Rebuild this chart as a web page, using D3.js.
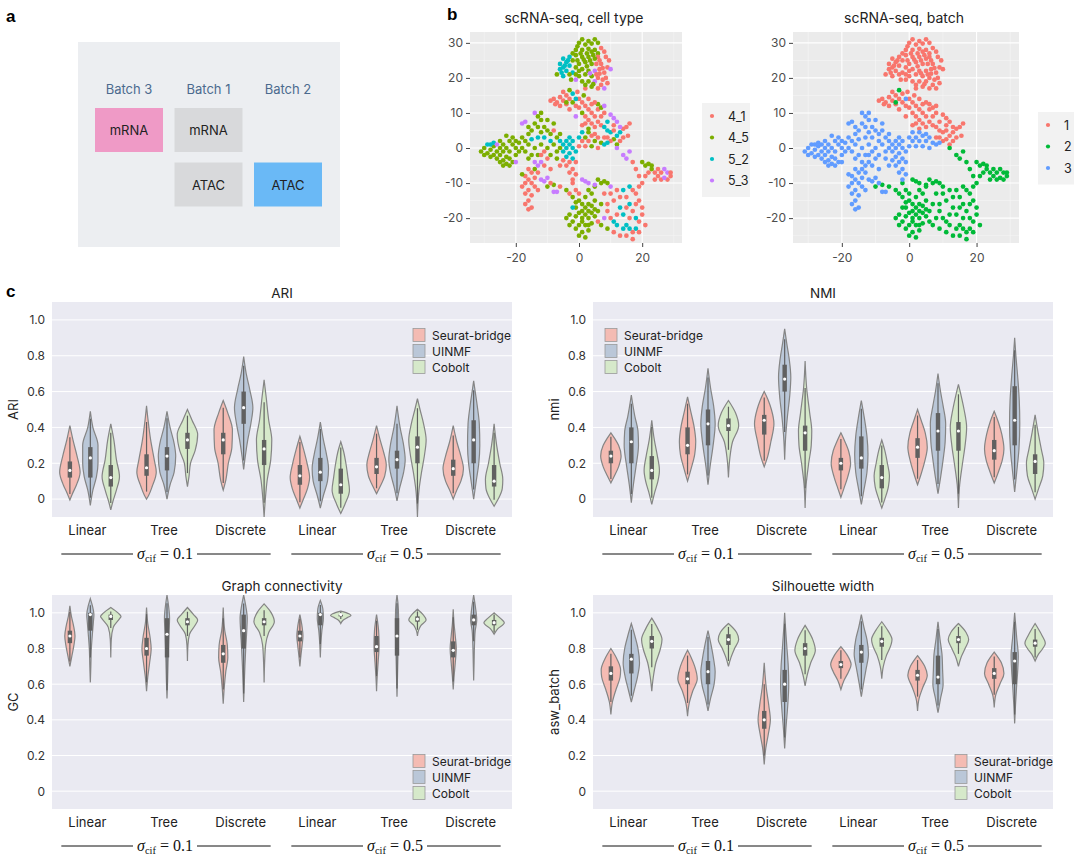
<!DOCTYPE html>
<html>
<head>
<meta charset="utf-8">
<script src="https://cdn.jsdelivr.net/npm/d3@7"></script>
<style>
  body { margin: 0; background: #fff; }
  svg { display: block; }
</style>
</head>
<body>
<script>
// ---------- data ----------
const FONT = 'Inter, "Noto Sans", sans-serif';
const SERIF = '"Liberation Serif", "DejaVu Serif", serif';

// panel a
const batchNames = ['Batch 3', 'Batch 1', 'Batch 2'];
const modalities = ['mRNA', 'ATAC'];
const batchModality = [['Batch 3', 'mRNA'], ['Batch 1', 'mRNA'], ['Batch 1', 'ATAC'], ['Batch 2', 'ATAC']];

// panel b (t-SNE), each token "x,y,celltype" ; r=4_1 g=4_5 c=5_2 p=5_3
const cellTypes = ['4_1', '4_5', '5_2', '5_3'];
const batchIds = ['1', '2', '3'];
const typeCode = { r: '4_1', g: '4_5', c: '5_2', p: '5_3' };
const tsneXTicks = [-20, 0, 20];
const tsneYTicks = [-20, -10, 0, 10, 20, 30];

const batch1Cells = `1,31,g 3,30.5,g 5,31,g 0,30,g 2,29.5,g 4,29.8,g 6,30,g -0.5,29,g -1,28,g 1,28,g 3,28.3,g 5,28,g
 7,28.5,r 8,27.5,r 6,27,g -2,27,g -3,26,c -1,26.5,g 1,26,g 3,26,g 4.5,26.5,g 6,26,r 8.5,26,r -5,25.5,c -4,24.5,c
 -6,24,c -5,23,c -3,23.5,c -4,22,c -6,22.5,c -2,25,g 0,24,g 2,24.5,g 4,24,g 5.5,24,r 7,24,r 9,23,r 1,22.5,g 3,22,g
 -1,23,g -2,21.5,c -3,21,g -7,21,g -5,20.5,c 5,22,p 6.5,22.5,r 8,21.5,r 10,22.5,p 2,21,g 4,20.5,g 0,20.5,g 6,20,r
 7.5,19.5,r 5,19,p 3,19,g 1,19,g -1,19.5,p 7,18,r 6,17,r 8,17,p 4,17.5,g 2,17,r 0.5,27,g 2.5,27,g 4,27.5,g -0.5,25,g
 1.5,25.2,g 3.5,25,g 5,25.5,g 6.5,25,r 7.5,22.8,r 8.5,20,r 2.5,23.3,g 0,22,g -1,21,g -2.5,19.5,g 3.5,21.3,p 5.5,21,r
 6.5,21.2,r 4.5,18.2,g 2,18,g 9,18.5,r 9.5,25,r -3.5,25,c -5.5,21.5,c -4.5,23.5,c
 -8,14,r -7,13,r -6,14.5,r -5,13.5,r -4,12.5,r -6,12,r -3,14,r -2,13,g -1,12,r 0,11.5,r 1,13,r -4,15,r -2,15.5,c
 0,14,r -7.5,12.5,r -3,11,r 2,12,r 3,11,r 1,10,g 2,9,r 3,8,r 4,10,r 5,9,r 6,11,r 4,7,r 5,6,r 6,7.5,r 7,9,r 8,10,r
 7,6.5,r 3,5.5,g 1,6.5,r 6,12.5,g 7,11.5,g 8,12,p -1,9,p 5,13,r -0.5,16,r 1.5,15,g 3,14,r -5,16,r -9,13.5,r 4,12.5,r 2,7,r
 8,6,c 9,5,c 10,4.5,c 11,5,r 12,3.5,c 13,4.5,c 14,5.5,r 15,6,r 14,3,r 13,2,r 12,1,g 11,2.5,g 10,2,r 9,3,r 15.5,3.5,r
 10,9.5,p 11,8.5,p 12,7.5,p 16,7,r 9,7.5,c 8,3,r 11,6.5,r 13,6,p`;

const batch2Cells = `-3,16.5,g -4,13,g -10,-11,g -8,-10.5,g -6,-11,r -4,-12,g -3,-13,r -2,-14,g 0,-15,g 2,-14,g 4,-13,g
 1,-16,g 3,-16,g 5,-15,g -1,-17,g 1,-18,g 3,-18,g 5,-17.5,g 7,-16,g -3,-19,g -1,-19.5,g 1,-20,g 3,-20,g 5,-19.5,g
 -2,-21,g 0,-22,g 2,-22,g 4,-21.5,g 6,-21,r -1,-23,g 1,-24,g 3,-23.5,g 0,-25,g 2,-25.5,g 4,-18.5,g 2,-17,g 6,-18,g
 -4,-20,g -3,-22,g -2,-17,c 3,-12,g 5,-11,g 0,-18.5,g 2,-19,g 4,-16.5,g 1,-21,g 3,-22,g -1,-15.5,g
 1,-9,p 2,-9.5,p 3,-10,p 5,-10.5,p 6,-9,g 7,-10,g 8,-9.5,g 9,-10,g 10,-11,p -1,-12,r 0,-13,r -2,-10,r
 10,-13,r 12,-12,r 14,-12,c 16,-11,c 17,-12,r 18,-13,r 19,-15,r 20,-17,r 20,-19,r 19,-21,r 18,-23,c 17,-24,r
 16,-23,c 15,-22,c 14,-23,c 12,-22,c 11,-21,c 10,-20,r 9,-18,r 9,-16,r 11,-15,r 13,-14,r 15,-14,r 16,-16,c 17,-18,r
 16,-20,r 14,-19,c 13,-17,c 12,-19,r 18,-20,c 19,-24,r 21,-22,r 8,-20,p 7,-22,g 9,-23,g 11,-24,r 13,-25,r 15,-25,r
 17,-26,r 8,-13,r 15,-17,r 18,-16,r
 14,-2,p 16,-1,p 15,-3,p 17,-4,r 18,-6,r 19,-8,r 20,-4,g 21,-5,g 22,-4.5,g 23,-5,g 22,-7,r 24,-7,r 25,-8,r 26,-7,r
 27,-6,p 28,-7,p 29,-8,r 28,-9,r 26,-9,r 24,-9,r 23,-6,g 21,-8,r 20,-10,r 19,-11,r 25,-6,r 27,-8.5,p 29,-7,r 12,0,p`;

const batch3Cells = `-31,-1,g -30,0,g -29,-1.5,g -28,-0.5,g -28,-2.5,g -27,0.5,g -27,-2,g -26,-3,g -26,-1,g -25,0,g -25,-2,g
 -24,-3.5,g -24,-1,g -23,-2.5,g -23,-4.5,g -22,-3,g -22,-5,g -21,-4,g -29,1,c -27,1.5,c -25,2,g -24,1,g -23,0,g
 -22,2,g -21,1,g -21,3,g -20,2,g -20,0,g -19,1.5,g -19,-1,g -20,-2,g -18,3,g -18,0,g -17,2,g -17,-1,g -16,1,g
 -22,-1,g -24,-5,g -20,-4,p -26,1,p -23,3.5,g -25,-4,g -30,-2,g -28,1,c
 -18,7,p -17,7.5,p -14,10,p -13,9,g -12,8,g -14,7,g -16,6,g -15,5,g -13,6,g -11,6,g -12,4.5,g -10,5,g -9,4,g
 -8,5,r -9,2,c -11,3,c -13,3,c -15,2.5,c -14,0,g -12,1,g -10,0,g -8,1,g -15,-2,g -13,-2,g -11,-1,r -9,-2,g -7,-1,g
 -7,3,g -6,4,g -12,-4,p -14,-4,p -16,-3,g -12,10,g -10,8,g -8,7,g -16,4,g
 -6,2,c -5,1,c -4,2,c -3,1,c -2,2,c -4,0,c -2,0,c -5,-1,c -3,-1.5,c -1,-1,c -4,-2.5,c -2,-3,c -3,-4,r -5,-3.5,r
 -1,-4,r -4,-5,r -2,-6,r -3,-7,r -1,-7.5,r -2,-9,r -6,-5,r -7,-3,g -6,0,g -3,3,c
 0,3,c 1,2,r 2,3,g 3,2,r 4,3.5,r 5,2,g 6,3,r 7,1.5,g 8,1,c 9,1.5,c 2,0.5,r 4,0.5,g 6,0,r 0,0.5,r 1,4.5,c 3,4.5,g 5,4,r
 -16,-6,r -15,-7,r -14,-6,g -17,-8,r -16,-9,r -14,-8.5,r -13,-7,r -18,-7.5,g -17,-10,r -15,-10,r -16,-12,r -14,-11,r
 -17,-13,r -15,-13.5,r -16,-15,r -17,-16,r -15,-17,r -16,-17.5,r -18,-11,r -13,-12,r -12,-9,p -11,-9.5,p -10,-8.5,p
 -9,-10,r -8,-12.5,p -7,-12.5,p -13,-5,p -11,-5,r -9,-6,r -10,-3,r -12,-2,r -1,14,c`;

// panel c
const methods = ['Seurat-bridge', 'UINMF', 'Cobolt'];
const categories = ['Linear', 'Tree', 'Discrete', 'Linear', 'Tree', 'Discrete'];
const sigmaValues = ['0.1', '0.5'];
const violinYTicks = [0, 0.2, 0.4, 0.6, 0.8, 1.0];

// violin outlines: [value, relative half-width] knots; order = category x method
const ariKnots = [
  [[-0.005,0],[0.03,0.25],[0.08,0.65],[0.15,1],[0.24,0.7],[0.33,0.3],[0.41,0]],
  [[-0.035,0],[0.05,0.25],[0.125,0.6],[0.2,0.75],[0.3,0.75],[0.4,0.25],[0.49,0]],
  [[-0.06,0],[-0.015,0.2],[0.05,0.55],[0.125,0.85],[0.22,0.55],[0.33,0.3],[0.42,0]],
  [[0,0],[0.02,0.2],[0.07,0.55],[0.15,0.95],[0.22,0.75],[0.33,0.4],[0.44,0.15],[0.52,0]],
  [[0,0],[0.08,0.3],[0.15,0.7],[0.24,0.85],[0.31,0.7],[0.4,0.3],[0.49,0]],
  [[0.07,0],[0.125,0.15],[0.2,0.3],[0.27,0.75],[0.36,1],[0.44,0.45],[0.5,0]],
  [[0.05,0],[0.105,0.25],[0.2,0.5],[0.29,0.85],[0.385,0.9],[0.48,0.45],[0.55,0]],
  [[0.165,0],[0.235,0.15],[0.33,0.4],[0.42,0.7],[0.51,0.9],[0.61,0.6],[0.7,0.25],[0.795,0]],
  [[-0.1,0],[0,0.12],[0.105,0.3],[0.22,0.65],[0.33,0.75],[0.44,0.45],[0.57,0.2],[0.665,0]],
  [[-0.05,0],[0,0.35],[0.06,0.75],[0.12,0.95],[0.2,0.7],[0.28,0.35],[0.35,0]],
  [[-0.05,0],[0.02,0.3],[0.1,0.7],[0.17,0.8],[0.25,0.6],[0.33,0.3],[0.43,0]],
  [[-0.08,0],[-0.03,0.4],[0.05,0.85],[0.12,0.7],[0.2,0.5],[0.26,0.3],[0.32,0]],
  [[0.03,0],[0.07,0.35],[0.13,0.8],[0.19,0.95],[0.26,0.7],[0.33,0.35],[0.41,0]],
  [[-0.01,0],[0.06,0.25],[0.15,0.65],[0.22,0.8],[0.3,0.65],[0.4,0.3],[0.52,0]],
  [[-0.1,0],[0.05,0.15],[0.15,0.4],[0.25,0.7],[0.33,0.85],[0.42,0.6],[0.5,0.25],[0.56,0]],
  [[0,0],[0.05,0.35],[0.1,0.75],[0.17,1],[0.24,0.75],[0.32,0.35],[0.41,0]],
  [[0,0],[0.1,0.25],[0.2,0.5],[0.3,0.6],[0.42,0.55],[0.52,0.35],[0.6,0.15],[0.66,0]],
  [[-0.04,0],[0,0.4],[0.06,0.8],[0.11,0.85],[0.2,0.55],[0.3,0.25],[0.42,0]]
];
const ariBox = [[0.12,0.16,0.21],[0.12,0.23,0.29],[0.07,0.12,0.19],[0.13,0.175,0.25],[0.16,0.24,0.29],[0.28,0.33,0.37],
  [0.25,0.33,0.37],[0.42,0.51,0.6],[0.19,0.28,0.33],[0.08,0.13,0.19],[0.1,0.15,0.23],[0.03,0.08,0.17],
  [0.14,0.18,0.23],[0.17,0.22,0.27],[0.2,0.29,0.35],[0.13,0.17,0.22],[0.2,0.33,0.44],[0.07,0.1,0.19]];

const nmiKnots = [
  [[0.09,0],[0.13,0.35],[0.18,0.75],[0.24,1],[0.3,0.75],[0.34,0.35],[0.37,0]],
  [[-0.02,0],[0.08,0.2],[0.18,0.45],[0.3,0.7],[0.38,0.65],[0.46,0.35],[0.58,0]],
  [[-0.03,0],[0.04,0.3],[0.1,0.6],[0.16,0.75],[0.24,0.55],[0.33,0.25],[0.44,0]],
  [[0.1,0],[0.17,0.35],[0.25,0.7],[0.32,0.8],[0.4,0.65],[0.48,0.35],[0.57,0]],
  [[0.08,0],[0.18,0.2],[0.3,0.5],[0.42,0.7],[0.52,0.55],[0.62,0.25],[0.73,0]],
  [[0.12,0],[0.22,0.12],[0.32,0.4],[0.41,1],[0.48,0.7],[0.55,0]],
  [[0.18,0],[0.24,0.35],[0.32,0.65],[0.42,0.95],[0.5,0.7],[0.55,0.4],[0.6,0]],
  [[0.22,0],[0.35,0.1],[0.45,0.25],[0.58,0.5],[0.68,0.6],[0.78,0.45],[0.87,0.2],[0.95,0]],
  [[-0.05,0],[0.08,0.1],[0.2,0.35],[0.3,0.6],[0.38,0.65],[0.48,0.45],[0.62,0.15],[0.77,0]],
  [[0.01,0],[0.06,0.3],[0.12,0.65],[0.2,0.95],[0.27,0.75],[0.32,0.4],[0.37,0]],
  [[-0.03,0],[0.05,0.25],[0.15,0.55],[0.25,0.65],[0.35,0.55],[0.45,0.3],[0.55,0]],
  [[-0.05,0],[0,0.3],[0.07,0.65],[0.13,0.75],[0.2,0.55],[0.27,0.3],[0.33,0]],
  [[0.08,0],[0.14,0.35],[0.21,0.7],[0.29,0.95],[0.37,0.75],[0.44,0.35],[0.5,0]],
  [[0.03,0],[0.12,0.25],[0.22,0.5],[0.32,0.7],[0.42,0.75],[0.52,0.5],[0.6,0.25],[0.7,0]],
  [[-0.05,0],[0.08,0.12],[0.2,0.4],[0.3,0.65],[0.4,0.8],[0.5,0.55],[0.58,0.25],[0.64,0]],
  [[0.09,0],[0.15,0.4],[0.22,0.8],[0.28,0.95],[0.36,0.75],[0.43,0.4],[0.49,0]],
  [[0.04,0],[0.15,0.2],[0.28,0.42],[0.42,0.5],[0.55,0.45],[0.68,0.3],[0.8,0.12],[0.9,0]],
  [[0,0],[0.06,0.35],[0.13,0.75],[0.2,0.85],[0.28,0.6],[0.37,0.3],[0.47,0]]
];
const nmiBox = [[0.2,0.24,0.27],[0.2,0.32,0.4],[0.11,0.16,0.24],[0.25,0.3,0.4],[0.3,0.42,0.5],[0.38,0.41,0.45],
  [0.36,0.44,0.47],[0.6,0.67,0.75],[0.27,0.37,0.41],[0.16,0.2,0.23],[0.17,0.23,0.35],[0.06,0.12,0.19],
  [0.23,0.29,0.34],[0.27,0.38,0.48],[0.27,0.38,0.43],[0.22,0.27,0.33],[0.3,0.44,0.63],[0.14,0.21,0.25]];

const gcKnots = [
  [[0.7,0],[0.76,0.2],[0.82,0.4],[0.87,0.5],[0.93,0.35],[0.98,0.15],[1.04,0]],
  [[0.61,0],[0.7,0.05],[0.8,0.1],[0.88,0.2],[0.95,0.3],[0.99,0.35],[1.04,0.2],[1.08,0]],
  [[0.75,0],[0.85,0.05],[0.92,0.25],[0.97,0.9],[0.98,1],[1,0.7],[1.03,0]],
  [[0.56,0],[0.64,0.12],[0.72,0.3],[0.8,0.45],[0.86,0.35],[0.94,0.12],[1.03,0]],
  [[0.52,0],[0.62,0.06],[0.72,0.1],[0.82,0.15],[0.9,0.2],[0.97,0.25],[1.04,0.15],[1.1,0]],
  [[0.73,0],[0.82,0.05],[0.88,0.2],[0.93,0.75],[0.96,1],[0.99,0.6],[1.03,0]],
  [[0.49,0],[0.58,0.1],[0.67,0.25],[0.75,0.45],[0.82,0.4],[0.9,0.15],[1.03,0]],
  [[0.5,0],[0.6,0.06],[0.7,0.12],[0.8,0.2],[0.9,0.3],[0.97,0.35],[1.04,0.2],[1.1,0]],
  [[0.61,0],[0.72,0.05],[0.82,0.15],[0.89,0.45],[0.95,1],[1,0.7],[1.05,0]],
  [[0.7,0],[0.76,0.1],[0.82,0.22],[0.87,0.3],[0.92,0.22],[0.99,0]],
  [[0.75,0],[0.82,0.05],[0.9,0.15],[0.97,0.3],[1.02,0.25],[1.07,0]],
  [[0.94,0],[0.96,0.25],[0.975,0.7],[0.985,1],[0.995,0.8],[1.01,0]],
  [[0.56,0],[0.64,0.06],[0.72,0.15],[0.82,0.25],[0.9,0.2],[0.99,0]],
  [[0.53,0],[0.65,0.05],[0.78,0.1],[0.9,0.15],[0.98,0.15],[1.05,0.1],[1.1,0]],
  [[0.87,0],[0.9,0.1],[0.93,0.35],[0.96,0.85],[0.99,0.55],[1.02,0]],
  [[0.57,0],[0.64,0.08],[0.72,0.2],[0.8,0.3],[0.87,0.2],[0.94,0.08],[1.02,0]],
  [[0.62,0],[0.72,0.04],[0.82,0.08],[0.9,0.15],[0.96,0.3],[1.02,0.2],[1.1,0]],
  [[0.88,0],[0.91,0.35],[0.945,1],[0.97,0.6],[1,0]]
];
const gcBox = [[0.83,0.87,0.9],[0.9,0.99,1.0],[0.96,0.98,0.99],[0.76,0.8,0.86],[0.75,0.88,0.97],[0.93,0.95,0.97],
  [0.72,0.77,0.82],[0.8,0.9,0.99],[0.93,0.95,0.97],[0.84,0.87,0.9],[0.93,0.99,1.0],[0.98,0.99,0.99],
  [0.78,0.81,0.87],[0.76,0.87,0.97],[0.95,0.965,0.98],[0.75,0.79,0.84],[0.93,0.96,0.99],[0.93,0.945,0.96]];

const aswKnots = [
  [[0.43,0],[0.5,0.15],[0.57,0.5],[0.64,0.9],[0.68,0.95],[0.74,0.6],[0.8,0]],
  [[0.5,0],[0.57,0.3],[0.64,0.6],[0.72,0.8],[0.8,0.65],[0.87,0.35],[0.94,0]],
  [[0.56,0],[0.64,0.15],[0.72,0.4],[0.8,0.85],[0.85,1],[0.91,0.6],[0.97,0]],
  [[0.42,0],[0.49,0.15],[0.56,0.5],[0.63,0.95],[0.7,0.7],[0.75,0.35],[0.79,0]],
  [[0.45,0],[0.52,0.25],[0.6,0.6],[0.67,0.7],[0.74,0.55],[0.82,0.3],[0.9,0]],
  [[0.7,0],[0.75,0.25],[0.8,0.6],[0.85,1],[0.89,0.8],[0.94,0]],
  [[0.15,0],[0.24,0.15],[0.32,0.4],[0.4,0.6],[0.48,0.45],[0.58,0.2],[0.72,0]],
  [[0.24,0],[0.35,0.12],[0.48,0.3],[0.6,0.4],[0.7,0.35],[0.82,0.2],[0.92,0.08],[1.0,0]],
  [[0.59,0],[0.65,0.2],[0.72,0.55],[0.79,1],[0.85,0.75],[0.93,0]],
  [[0.57,0],[0.62,0.3],[0.67,0.75],[0.71,1],[0.76,0.65],[0.81,0]],
  [[0.53,0],[0.6,0.2],[0.68,0.45],[0.77,0.7],[0.85,0.55],[0.92,0.25],[0.99,0]],
  [[0.63,0],[0.7,0.15],[0.76,0.45],[0.82,0.9],[0.85,1],[0.9,0.6],[0.95,0]],
  [[0.45,0],[0.52,0.15],[0.58,0.5],[0.65,0.95],[0.7,0.7],[0.76,0]],
  [[0.44,0],[0.52,0.25],[0.6,0.5],[0.68,0.45],[0.76,0.4],[0.85,0.2],[0.95,0]],
  [[0.7,0],[0.75,0.25],[0.8,0.65],[0.85,1],[0.89,0.75],[0.94,0]],
  [[0.47,0],[0.54,0.15],[0.6,0.55],[0.66,0.95],[0.72,0.7],[0.78,0]],
  [[0.38,0],[0.48,0.08],[0.58,0.18],[0.68,0.3],[0.76,0.35],[0.86,0.2],[1.0,0]],
  [[0.73,0],[0.77,0.35],[0.8,0.75],[0.83,1],[0.87,0.7],[0.94,0]]
];
const aswBox = [[0.62,0.66,0.7],[0.66,0.74,0.77],[0.8,0.84,0.87],[0.6,0.63,0.67],[0.6,0.67,0.73],[0.82,0.85,0.88],
  [0.35,0.4,0.45],[0.5,0.6,0.68],[0.76,0.8,0.83],[0.69,0.71,0.73],[0.72,0.78,0.82],[0.81,0.84,0.86],
  [0.62,0.65,0.68],[0.6,0.64,0.76],[0.83,0.85,0.87],[0.63,0.66,0.69],[0.6,0.73,0.78],[0.81,0.83,0.85]];

// ---------- styles ----------
const typeColors = ['#F8766D', '#7CAE00', '#00BFC4', '#C77CFF'];
const batchColors = ['#F8766D', '#00BA38', '#619CFF'];
const methodFill = ['#f4bbb3', '#bac7d8', '#d6e9ca'];
const modalityFill = { 'Batch 3': '#ef9ac6', 'Batch 1': '#d8d9db', 'Batch 2': '#6ab9f6' };

const svg = d3.select('body').append('svg').attr('width', 1080).attr('height', 864);

function panelLetter(t, x, y) {
  svg.append('text').attr('x', x).attr('y', y).text(t)
    .attr('font-family', '"Liberation Sans", Arial, sans-serif')
    .attr('font-weight', 700).attr('font-size', 17).attr('fill', '#000');
}

// ---------- panel a ----------
panelLetter('a', 6, 22);
svg.append('rect').attr('x', 78).attr('y', 42).attr('width', 262).attr('height', 205).attr('fill', '#eceef1');
const colX = d3.scalePoint().domain(batchNames).range([129, 288]);
const rowY = d3.scalePoint().domain(modalities).range([130, 184.5]);
svg.selectAll('text.batch').data(batchNames).join('text')
  .attr('x', d => colX(d)).attr('y', 94).attr('text-anchor', 'middle')
  .attr('font-family', FONT).attr('font-size', 13).attr('fill', '#4b6a8e').text(d => d);
svg.selectAll('rect.mod').data(batchModality).join('rect')
  .attr('x', d => colX(d[0]) - 34).attr('y', d => rowY(d[1]) - 22)
  .attr('width', 68).attr('height', 44).attr('fill', d => modalityFill[d[0]]);
svg.selectAll('text.mod').data(batchModality).join('text')
  .attr('x', d => colX(d[0])).attr('y', d => rowY(d[1]) + 5).attr('text-anchor', 'middle')
  .attr('font-family', FONT).attr('font-size', 13).attr('fill', '#222').text(d => d[1]);

// ---------- panel b ----------
function parseCells(str, batch) {
  return str.trim().split(/\s+/).map(s => {
    const p = s.split(',');
    return { x: +p[0], y: +p[1], type: typeCode[p[2]], batch: batch };
  });
}
const cells = [].concat(parseCells(batch1Cells, '1'), parseCells(batch2Cells, '2'), parseCells(batch3Cells, '3'));

function drawScatter(cfg) {
  const x = d3.scaleLinear().domain([-34.5, 32.6]).range([cfg.x0, cfg.x1]);
  const y = d3.scaleLinear().domain([-27.1, 33.1]).range([243, 32]);
  const g = svg.append('g');
  g.append('rect').attr('x', cfg.x0).attr('y', 32).attr('width', cfg.x1 - cfg.x0).attr('height', 211).attr('fill', '#ebebeb');

  const minor = (ticks, dom) => {
    const step = ticks[1] - ticks[0];
    return ticks.map(v => v - step / 2).concat([ticks[ticks.length - 1] + step / 2])
      .filter(v => v > dom[0] && v < dom[1]);
  };
  g.selectAll('line.vminor').data(minor(tsneXTicks, x.domain())).join('line')
    .attr('x1', d => x(d)).attr('x2', d => x(d)).attr('y1', 32).attr('y2', 243)
    .attr('stroke', '#f7f7f7').attr('stroke-width', 0.6);
  g.selectAll('line.hminor').data(minor(tsneYTicks, y.domain())).join('line')
    .attr('x1', cfg.x0).attr('x2', cfg.x1).attr('y1', d => y(d)).attr('y2', d => y(d))
    .attr('stroke', '#f7f7f7').attr('stroke-width', 0.6);
  g.selectAll('line.vmajor').data(tsneXTicks).join('line')
    .attr('x1', d => x(d)).attr('x2', d => x(d)).attr('y1', 32).attr('y2', 243)
    .attr('stroke', '#fff').attr('stroke-width', 1.1);
  g.selectAll('line.hmajor').data(tsneYTicks).join('line')
    .attr('x1', cfg.x0).attr('x2', cfg.x1).attr('y1', d => y(d)).attr('y2', d => y(d))
    .attr('stroke', '#fff').attr('stroke-width', 1.1);

  g.append('g').selectAll('circle').data(cells).join('circle')
    .attr('cx', d => x(d.x)).attr('cy', d => y(d.y)).attr('r', 2.35)
    .attr('fill', d => cfg.color(d));

  const ax = g.append('g').attr('transform', 'translate(0,243)')
    .call(d3.axisBottom(x).tickValues(tsneXTicks).tickSize(4).tickPadding(6).tickFormat(d => String(d)));
  const ay = g.append('g').attr('transform', `translate(${cfg.x0},0)`)
    .call(d3.axisLeft(y).tickValues(tsneYTicks).tickSize(4).tickPadding(3).tickFormat(d => String(d)));
  [ax, ay].forEach(a => {
    a.select('.domain').remove();
    a.selectAll('line').attr('stroke', '#444');
    a.selectAll('text').attr('font-family', FONT).attr('font-size', 12).attr('fill', '#4d4d4d');
  });

  g.append('text').attr('x', (cfg.x0 + cfg.x1) / 2 - 2).attr('y', 23).attr('text-anchor', 'middle')
    .attr('font-family', FONT).attr('font-size', 14).attr('fill', '#222').text(cfg.title);

  const L = cfg.legend;
  g.append('rect').attr('x', L.x).attr('y', L.y).attr('width', L.w)
    .attr('height', L.items.length * 21.5 + 8).attr('fill', '#f2f2f2');
  L.items.forEach((it, i) => {
    const cy = L.y + 13 + i * 21.5;
    g.append('circle').attr('cx', L.x + 10).attr('cy', cy).attr('r', 2.1).attr('fill', L.colors[i]);
    g.append('text').attr('x', L.x + 26).attr('y', cy + 4.5).attr('font-family', FONT)
      .attr('font-size', 12.5).attr('fill', '#222').text(it);
  });
}

panelLetter('b', 447, 20);
drawScatter({
  x0: 470, x1: 682, title: 'scRNA-seq, cell type',
  color: d => typeColors[cellTypes.indexOf(d.type)],
  legend: { x: 702, y: 103, w: 48, items: cellTypes, colors: typeColors }
});
drawScatter({
  x0: 793, x1: 1019, title: 'scRNA-seq, batch',
  color: d => batchColors[batchIds.indexOf(d.batch)],
  legend: { x: 1038, y: 112, w: 36, items: batchIds, colors: batchColors }
});

// ---------- panel c ----------
function drawViolinPanel(cfg) {
  const g = svg.append('g');
  const x = d3.scaleBand().domain(d3.range(categories.length)).range([cfg.x0, cfg.x1]);
  const hue = d3.scaleBand().domain(methods).range([-0.4 * x.bandwidth(), 0.4 * x.bandwidth()]);
  const y = d3.scaleLinear().domain([-0.1, 1.1]).range([cfg.yb, cfg.yt]);
  const maxW = hue.bandwidth() / 2;

  g.append('rect').attr('x', cfg.x0).attr('y', cfg.yt).attr('width', cfg.x1 - cfg.x0)
    .attr('height', cfg.yb - cfg.yt).attr('fill', '#eaeaf2');
  g.selectAll('line.grid').data(violinYTicks).join('line')
    .attr('x1', cfg.x0).attr('x2', cfg.x1).attr('y1', d => y(d)).attr('y2', d => y(d))
    .attr('stroke', '#fff').attr('stroke-width', 1);

  const ay = g.append('g').attr('transform', `translate(${cfg.x0},0)`)
    .call(d3.axisLeft(y).tickValues(violinYTicks).tickSize(0).tickPadding(7)
      .tickFormat(d => d === 0 ? '0' : d3.format('.1f')(d)));
  ay.select('.domain').remove();
  ay.selectAll('text').attr('font-family', FONT).attr('font-size', 12).attr('fill', '#333');

  g.append('text').attr('transform', `translate(${cfg.x0 - 34},${(cfg.yt + cfg.yb) / 2}) rotate(-90)`)
    .attr('text-anchor', 'middle').attr('font-family', FONT).attr('font-size', 13).attr('fill', '#222')
    .text(cfg.ylab);
  g.append('text').attr('x', (cfg.x0 + cfg.x1) / 2).attr('y', cfg.yt - 4).attr('text-anchor', 'middle')
    .attr('font-family', FONT).attr('font-size', 13.5).attr('fill', '#222').text(cfg.title);

  cfg.knots.forEach((k, i) => {
    const gi = Math.floor(i / methods.length);
    const mi = i % methods.length;
    const cx = x(gi) + x.bandwidth() / 2 + hue(methods[mi]) + hue.bandwidth() / 2;
    const area = d3.area().curve(d3.curveMonotoneY)
      .y(d => y(d[0])).x0(d => cx - d[1] * maxW).x1(d => cx + d[1] * maxW);
    g.append('path').attr('d', area(k.slice().reverse()))
      .attr('fill', methodFill[mi]).attr('stroke', '#858585').attr('stroke-width', 1.2);

    const [q1, med, q3] = cfg.box[i];
    const lo = k[0][0], hi = k[k.length - 1][0];
    const inset = (hi - lo) * 0.08;
    const iqr = q3 - q1;
    const wlo = Math.max(lo + inset, q1 - 1.5 * iqr);
    const whi = Math.min(hi - inset, q3 + 1.5 * iqr);
    g.append('line').attr('x1', cx).attr('x2', cx).attr('y1', y(wlo)).attr('y2', y(whi))
      .attr('stroke', '#606060').attr('stroke-width', 1.2);
    g.append('rect').attr('x', cx - 2.2).attr('width', 4.4).attr('y', y(q3))
      .attr('height', Math.max(1, y(q1) - y(q3))).attr('fill', '#606060');
    g.append('circle').attr('cx', cx).attr('cy', y(med)).attr('r', 1.6).attr('fill', '#fff');
  });

  g.selectAll('text.cat').data(categories).join('text')
    .attr('x', (d, i) => x(i) + x.bandwidth() / 2 - 3).attr('y', cfg.yb + 18).attr('text-anchor', 'middle')
    .attr('font-family', FONT).attr('font-size', 13).attr('fill', '#222').text(d => d);

  sigmaValues.forEach((s, si) => {
    const c0 = x(si * 3) + x.bandwidth() / 2;
    const c1 = x(si * 3 + 1) + x.bandwidth() / 2;
    const c2 = x(si * 3 + 2) + x.bandwidth() / 2;
    const ly = cfg.yb + 37;
    const t = g.append('text').attr('x', c1 - 2).attr('y', ly + 5).attr('text-anchor', 'middle')
      .attr('font-family', SERIF).attr('font-size', 16).attr('fill', '#111');
    t.append('tspan').attr('font-style', 'italic').text('σ');
    t.append('tspan').attr('font-size', 10.5).attr('dy', 3).text('cif');
    t.append('tspan').attr('dy', -3).text(' = ' + s);
    const bb = t.node().getBBox();
    g.append('line').attr('x1', c0 - 29).attr('x2', bb.x - 4).attr('y1', ly).attr('y2', ly)
      .attr('stroke', '#111').attr('stroke-width', 1);
    g.append('line').attr('x1', bb.x + bb.width + 4).attr('x2', c2 + 27).attr('y1', ly).attr('y2', ly)
      .attr('stroke', '#111').attr('stroke-width', 1);
  });

  methods.forEach((m, i) => {
    const ry = cfg.legend.y + i * 16;
    g.append('rect').attr('x', cfg.legend.x).attr('y', ry - 6.5).attr('width', 12).attr('height', 13)
      .attr('fill', methodFill[i]).attr('stroke', '#9a9a9a').attr('stroke-width', 0.8);
    g.append('text').attr('x', cfg.legend.x + 19).attr('y', ry + 4.5).attr('font-family', FONT)
      .attr('font-size', 12).attr('fill', '#222').text(m);
  });
}

panelLetter('c', 6, 297);
drawViolinPanel({ x0: 52, x1: 512, yt: 302, yb: 517, title: 'ARI', ylab: 'ARI',
  knots: ariKnots, box: ariBox, legend: { x: 413, y: 335 } });
drawViolinPanel({ x0: 593, x1: 1053, yt: 302, yb: 517, title: 'NMI', ylab: 'nmi',
  knots: nmiKnots, box: nmiBox, legend: { x: 605, y: 335 } });
drawViolinPanel({ x0: 52, x1: 512, yt: 595, yb: 809, title: 'Graph connectivity', ylab: 'GC',
  knots: gcKnots, box: gcBox, legend: { x: 413, y: 761 } });
drawViolinPanel({ x0: 593, x1: 1053, yt: 595, yb: 809, title: 'Silhouette width', ylab: 'asw_batch',
  knots: aswKnots, box: aswBox, legend: { x: 955, y: 761 } });
</script>
</body>
</html>
